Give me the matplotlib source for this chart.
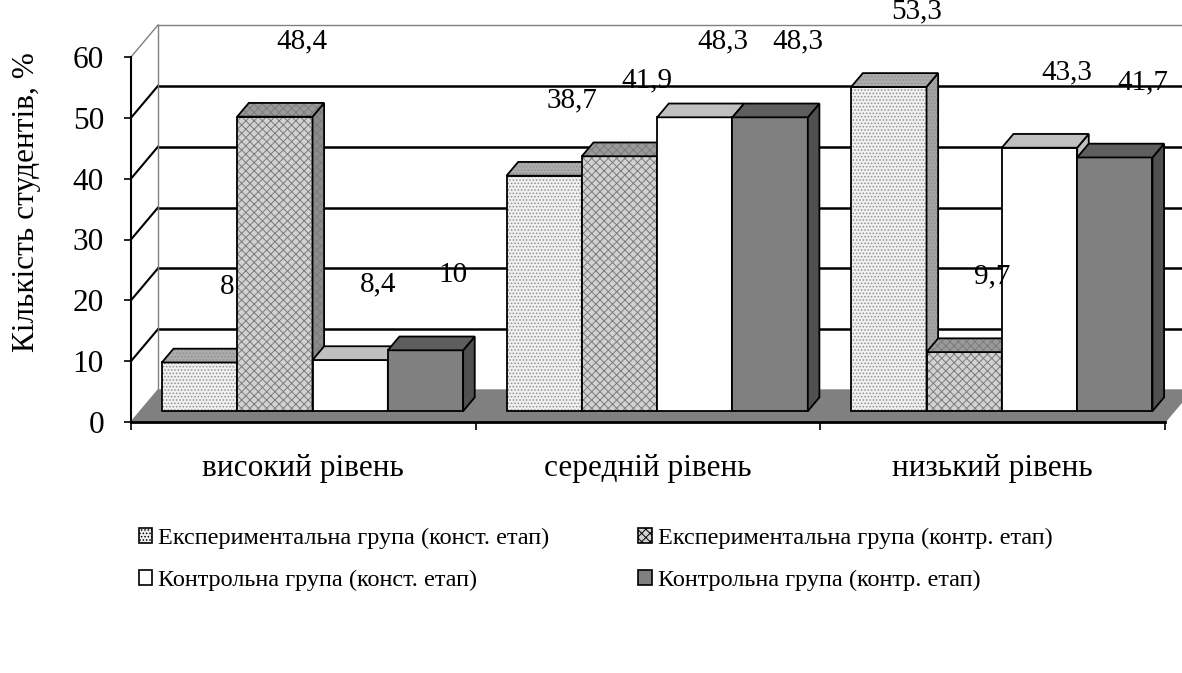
import matplotlib
matplotlib.use('Agg')
import matplotlib.pyplot as plt
from matplotlib.patches import Polygon, Rectangle

plt.rcParams['font.family'] = ['Liberation Serif', 'DejaVu Serif']
plt.rcParams['hatch.linewidth'] = 0.7

# дані
categories = ['високий рівень', 'середній рівень', 'низький рівень']
series_names = ['Експериментальна група (конст. етап)',
                'Експериментальна група (контр. етап)',
                'Контрольна група (конст. етап)',
                'Контрольна група (контр. етап)']
exp_const = [8, 38.7, 53.3]
exp_contr = [48.4, 41.9, 9.7]
ctrl_const = [8.4, 48.3, 43.3]
ctrl_contr = [10, 48.3, 41.7]
values = [exp_const, exp_contr, ctrl_const, ctrl_contr]
label_texts = [['8', '38,7', '53,3'], ['48,4', '41,9', '9,7'],
               ['8,4', '48,3', '43,3'], ['10', '48,3', '41,7']]
yticks = [0, 10, 20, 30, 40, 50, 60]

# стилі граней: фронт, верх, бік
styles = [
    dict(face='#f0f0f0', hatch='.....', hcol='#909090', top='#acacac', side='#a4a4a4'),
    dict(face='#d2d2d2', hatch='xxxx', hcol='#7c7c7c', top='#9a9a9a', side='#8c8c8c'),
    dict(face='white', hatch=None, hcol=None, top='#c0c0c0', side='#c0c0c0'),
    dict(face='#808080', hatch=None, hcol=None, top='#5e5e5e', side='#505050'),
]

fig = plt.figure(figsize=(11.82, 6.73), dpi=100)
ax = fig.add_axes([131 / 1182, 1 - 422 / 673, 1034 / 1182, 365 / 673])
ax.set_xlim(0, 3)
ax.set_ylim(0, 60)

# глибина 3D-ефекту в одиницях даних
DX, DY = 0.0783, 5.26
d0, d1 = 0.34, 0.77          # передня і задня грані стовпців (частка глибини)
w = 0.2185
start = 0.063


def face(pts, color, hatch=None, hcol=None, z=3, lw=1.3):
    ax.add_patch(Polygon(pts, closed=True, facecolor=color, edgecolor='none',
                         lw=0, zorder=z, clip_on=False))
    if hatch:
        ax.add_patch(Polygon(pts, closed=True, facecolor='none', edgecolor=hcol,
                             lw=0, hatch=hatch, zorder=z, clip_on=False))
    ax.add_patch(Polygon(pts, closed=True, facecolor='none', edgecolor='black',
                         lw=lw, zorder=z, clip_on=False))


# задня стінка: сітка
for t in yticks[1:-1]:
    ax.plot([DX, 3.2], [t + DY, t + DY], color='black', lw=1.8, zorder=1, clip_on=False)
    ax.plot([0, DX], [t, t + DY], color='black', lw=1.5, zorder=1, clip_on=False)
top = yticks[-1]
ax.plot([DX, 3.2], [top + DY, top + DY], color='#808080', lw=1.0, zorder=1, clip_on=False)
ax.plot([0, DX], [top, top + DY], color='#808080', lw=1.0, zorder=1, clip_on=False)
ax.plot([DX, DX], [DY, top + DY], color='#808080', lw=1.0, zorder=1, clip_on=False)

# підлога
ax.add_patch(Polygon([(0, 0), (3, 0), (3 + DX, DY), (3 + DX * 2, DY), (DX, DY)],
                     closed=True, facecolor='#808080', edgecolor='#808080',
                     lw=1, zorder=1.5, clip_on=False))

# стовпці
ox, oy = DX * d0, DY * d0
bx, by = DX * (d1 - d0), DY * (d1 - d0)
for i in range(len(categories)):
    for j, vals in enumerate(values):
        st = styles[j]
        v = vals[i]
        z = 3 + i * 0.5 + j * 0.1
        x0 = i + start + j * w + ox
        x1 = x0 + w
        y0 = oy
        y1 = oy + v
        ax.bar(x0, v, width=w, bottom=y0, align='edge', color=st['face'],
               edgecolor='none', lw=0, zorder=z, clip_on=False)
        if st['hatch']:
            ax.bar(x0, v, width=w, bottom=y0, align='edge', color='none',
                   edgecolor=st['hcol'], lw=0, hatch=st['hatch'], zorder=z, clip_on=False)
        ax.bar(x0, v, width=w, bottom=y0, align='edge', color='none',
               edgecolor='black', lw=1.3, zorder=z, clip_on=False)
        face([(x1, y0), (x1 + bx, y0 + by), (x1 + bx, y1 + by), (x1, y1)],
             st['side'], st['hatch'], st['hcol'], z=z)
        face([(x0, y1), (x1, y1), (x1 + bx, y1 + by), (x0 + bx, y1 + by)],
             st['top'], st['hatch'], st['hcol'], z=z)
        ax.text(x0 + w / 2 + 0.08, y1 + 12.4, label_texts[j][i], ha='center', va='center',
                fontsize=21, zorder=20, clip_on=False)

# осі
for s in ['top', 'right']:
    ax.spines[s].set_visible(False)
ax.spines['left'].set_linewidth(1.5)
ax.spines['bottom'].set_linewidth(2)
ax.spines['left'].set_zorder(10)
ax.spines['bottom'].set_zorder(10)
ax.set_yticks(yticks)
ax.tick_params(axis='y', labelsize=22.5, length=5, width=1.2, pad=14.5, direction='out')
ax.set_xticks([0, 1, 2, 3])
ax.set_xticklabels([])
ax.set_xticks([0.5, 1.5, 2.5], minor=True)
ax.set_xticklabels(categories, minor=True)
ax.tick_params(axis='x', which='major', length=6, width=1.2, direction='out')
ax.tick_params(axis='x', which='minor', length=0, labelsize=22.5, pad=23)

fig.text(27 / 1182, 1 - 202 / 673, 'Кількість студентів, %', rotation=90,
         ha='center', va='center', fontsize=22.5)

# легенда (порядок рядками, як у Excel)
handles = []
for st in styles:
    handles.append(Rectangle((0, 0), 1, 1, facecolor=st['face'], edgecolor='black',
                             hatch=st['hatch'], lw=1.2))
order = [0, 2, 1, 3]
leg = fig.legend([handles[k] for k in order], [series_names[k] for k in order],
                 loc='upper left', ncol=2,
                 bbox_to_anchor=(139 / 1182, 1 - 528 / 673), frameon=False,
                 fontsize=17.5, handlelength=0.55, handleheight=0.55,
                 handletextpad=0.25, columnspacing=3.65, labelspacing=0.85,
                 borderpad=0, borderaxespad=0)

plt.savefig('out.png', dpi=100)
